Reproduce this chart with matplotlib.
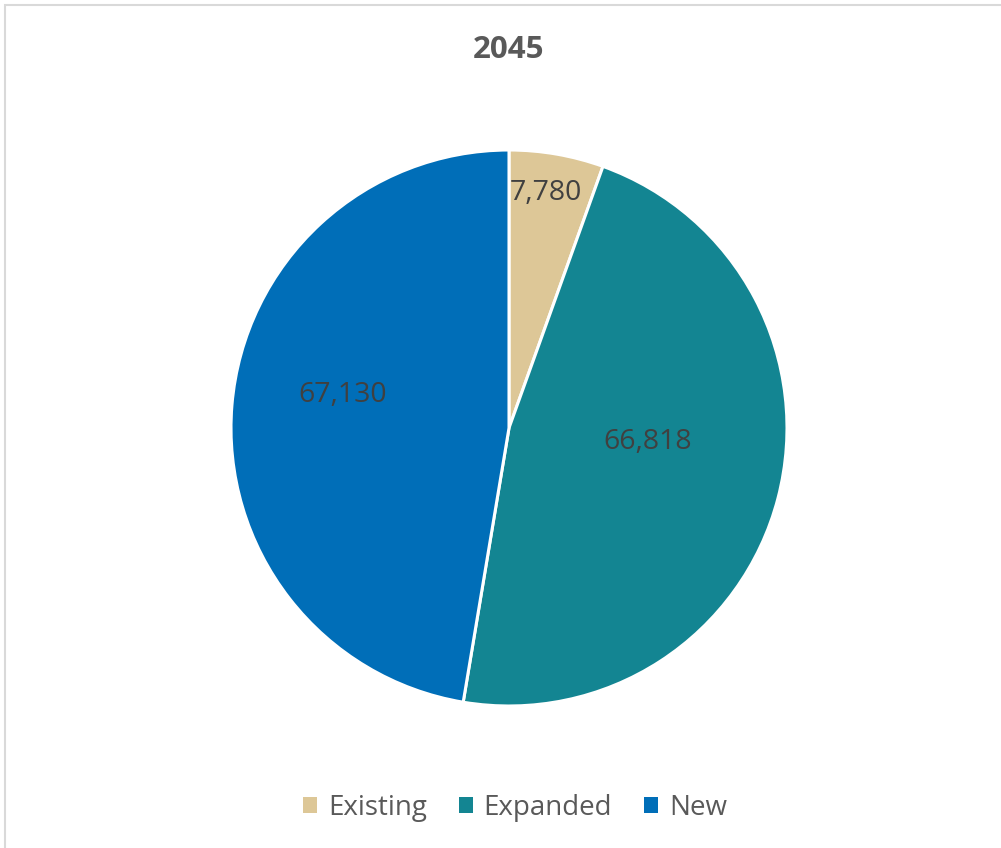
import numpy as np
import matplotlib
matplotlib.use("Agg")
import matplotlib.pyplot as plt
from matplotlib.patches import Patch, Rectangle

plt.rcParams['font.family'] = ['Open Sans', 'DejaVu Sans']

# data
categories = ['Existing', 'Expanded', 'New']
values = [7780, 66818, 67130]
colors = ['#DDC797', '#138592', '#006EB8']
title = '2045'

# label placement (radius as fraction, angle nudge in deg from wedge middle)
lab_r = [0.855, 0.50, 0.61]
lab_nudge = [1.0, 9.0, -6.5]

fig = plt.figure(figsize=(10.01, 8.48), dpi=100)
fig.patch.set_facecolor('white')

# light chart-area border (only top and left visible in the crop)
fig.patches.append(Rectangle((5 / 1001, -0.2), 1.2, 1.2 - 5 / 848, transform=fig.transFigure,
                             fill=False, edgecolor='#D9D9D9', linewidth=1.5))

ax = fig.add_axes([231 / 1001, 142 / 848, 556 / 1001, 556 / 848])
wedges, _ = ax.pie(values, colors=colors, startangle=90, counterclock=False, radius=1,
                   wedgeprops=dict(edgecolor='white', linewidth=2.2))
ax.set_xlim(-1.0, 1.0)
ax.set_ylim(-1.0, 1.0)
ax.set_aspect('auto')
ax.axis('off')

for w, v, r, d in zip(wedges, values, lab_r, lab_nudge):
    ang = np.deg2rad((w.theta1 + w.theta2) / 2 + d)
    ax.text(r * np.cos(ang), r * np.sin(ang), f'{v:,}', ha='center', va='center',
            fontsize=20.5, color='#404040')

fig.text(509 / 1001, 1 - 50 / 848, title, ha='center', va='center', fontsize=22.5,
         fontweight='bold', color='#595959')

handles = [Patch(facecolor=c, edgecolor='none') for c in colors]
leg = fig.legend(handles, categories, loc='center', bbox_to_anchor=(515 / 1001, 1 - 808 / 848),
                 ncol=3, frameon=False, fontsize=20, handlelength=0.5, handleheight=0.5,
                 handletextpad=0.4, columnspacing=1.15, labelcolor='#595959')

fig.savefig('out.png', dpi=100, facecolor='white')
